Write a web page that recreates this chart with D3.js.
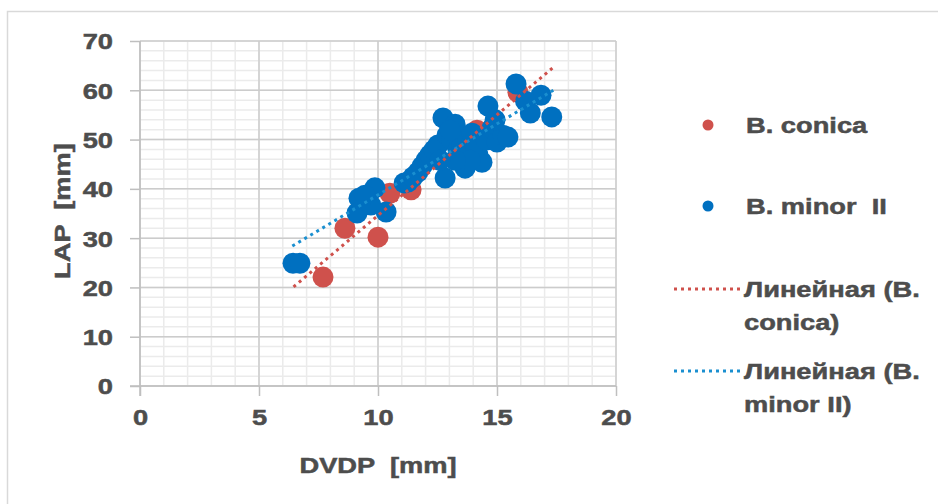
<!DOCTYPE html>
<html><head><meta charset="utf-8">
<script src="https://cdn.jsdelivr.net/npm/d3@7"></script>
<style>
html,body{margin:0;padding:0;background:#fff;}
svg text{font-family:"Liberation Sans",Arial,sans-serif;font-weight:bold;fill:#4d4d4d;stroke:#4d4d4d;stroke-width:0.5px;white-space:pre;}
</style></head><body>
<svg id="chart" width="938" height="504"></svg>
<script>
// ---- data ----
const conicaX = [7.69, 8.61, 10.0, 10.5, 11.39, 14.16, 15.88];
const conicaY = [22.1, 32.0, 30.2, 39.1, 39.8, 51.9, 59.6];

const minorX = [6.43, 6.72, 9.2, 9.87, 9.12, 10.34, 9.7, 9.45, 11.1,
  11.26, 11.47, 11.68, 11.85, 12.02, 12.18, 12.35, 12.52, 12.73, 13.24, 12.9, 13.1,
  12.82, 13.36, 13.53, 13.78, 13.95, 13.66, 14.2, 14.37, 14.12, 14.54, 14.62, 14.79,
  15.0, 15.25, 15.46, 14.92, 13.87, 13.24, 12.6, 13.03,
  15.8, 16.85, 16.4, 17.3, 16.2];
const minorY = [24.9, 24.9, 38.1, 40.2, 35.1, 35.3, 36.7, 38.7, 41.2,
  41.4, 42.4, 43.4, 44.6, 45.8, 46.9, 47.9, 48.9, 54.4, 53.1, 50.9, 49.9,
  42.2, 47.9, 48.7, 50.3, 51.3, 44.2, 46.9, 45.4, 48.3, 49.9, 56.8, 52.3,
  49.5, 50.9, 50.5, 54.0, 45.8, 45.8, 45.8, 51.9,
  61.3, 59.0, 55.4, 54.6, 57.8];

// trendline end points
const conicaTrendX = [6.45, 17.35];
const conicaTrendY = [20.1, 64.6];
const minorTrendX = [6.4, 17.4];
const minorTrendY = [28.4, 60.1];

const xTicks = [0, 5, 10, 15, 20];
const yTicks = [0, 10, 20, 30, 40, 50, 60, 70];
const seriesNames = ["B. conica", "B. minor  II"];
const trendNames = [["Линейная (B.", "conica)"], ["Линейная (B.", "minor II)"]];
const xTitle = "DVDP  [mm]";
const yTitle = "LAP  [mm]";

// ---- drawing ----
const RED = "#cf514c", BLUE = "#0070c0", BLUE_T = "#1a8fd0";
const SX = 1.24; // text horizontal stretch
const svg = d3.select("#chart");
svg.append("rect").attr("width", 938).attr("height", 504).attr("fill", "#fff");
svg.append("path").attr("d", "M7.5,504V11.5H938").attr("fill", "none").attr("stroke", "#d9d9d9").attr("stroke-width", 1.5);

const x = d3.scaleLinear().domain([0, 20]).range([140, 616]);
const y = d3.scaleLinear().domain([0, 70]).range([386, 41]);

const grid = svg.append("g");
// minor grid
grid.selectAll(".mvx").data(d3.range(0, 21, 1)).join("line")
  .attr("x1", d => x(d)).attr("x2", d => x(d)).attr("y1", y(70)).attr("y2", y(0))
  .attr("stroke", "#ebebeb").attr("stroke-width", 1.5);
grid.selectAll(".mhy").data(d3.range(0, 71, 2)).join("line")
  .attr("y1", d => y(d)).attr("y2", d => y(d)).attr("x1", x(0)).attr("x2", x(20))
  .attr("stroke", "#ebebeb").attr("stroke-width", 1.5);
// major grid
grid.selectAll(".Mvx").data(xTicks).join("line")
  .attr("x1", d => x(d)).attr("x2", d => x(d)).attr("y1", y(70)).attr("y2", y(0))
  .attr("stroke", "#cccccc").attr("stroke-width", 1.5);
grid.selectAll(".Mhy").data(yTicks).join("line")
  .attr("y1", d => y(d)).attr("y2", d => y(d)).attr("x1", x(0)).attr("x2", x(20))
  .attr("stroke", "#cccccc").attr("stroke-width", 1.5);

function stretchTexts(sel) {
  sel.selectAll("text").each(function() {
    const t = d3.select(this);
    const tx = +t.attr("x") || 0, ty = +t.attr("y") || 0;
    t.attr("x", 0).attr("y", 0).attr("transform", `translate(${tx},${ty}) scale(${SX},1)`);
  });
}

const yAxis = svg.append("g").attr("transform", `translate(${x(0)},0)`)
  .call(d3.axisLeft(y).tickValues(yTicks).tickSize(10).tickPadding(17).tickFormat(d3.format("d")));
yAxis.select(".domain").attr("d", `M0,${y(70)}V${y(0) + 10}`).attr("stroke", "#bfbfbf").attr("stroke-width", 1.5);
yAxis.selectAll(".tick line").attr("stroke", "#bfbfbf").attr("stroke-width", 1.5);
yAxis.selectAll("text").attr("font-size", 22).attr("fill", null).attr("font-family", null).attr("dy", "0.36em");
stretchTexts(yAxis);

const xAxis = svg.append("g").attr("transform", `translate(0,${y(0)})`)
  .call(d3.axisBottom(x).tickValues(xTicks).tickSize(10).tickPadding(13).tickFormat(d3.format("d")));
xAxis.select(".domain").attr("d", `M${x(0) - 10},0H${x(20)}`).attr("stroke", "#bfbfbf").attr("stroke-width", 1.5);
xAxis.selectAll(".tick line").attr("stroke", "#bfbfbf").attr("stroke-width", 1.5);
xAxis.selectAll("text").attr("font-size", 22).attr("fill", null).attr("font-family", null);
stretchTexts(xAxis);

// axis titles
svg.append("text").attr("transform", `translate(${(x(0) + x(20)) / 2},473) scale(${SX},1)`)
  .attr("text-anchor", "middle").attr("font-size", 22).text(xTitle);
svg.append("text").attr("transform", `translate(70,211) rotate(-90) scale(${SX},1)`)
  .attr("text-anchor", "middle").attr("font-size", 22).text(yTitle);

// points
const conica = conicaX.map((v, i) => [v, conicaY[i]]);
const minor = minorX.map((v, i) => [v, minorY[i]]);
svg.append("g").selectAll("circle").data(conica).join("circle")
  .attr("cx", d => x(d[0])).attr("cy", d => y(d[1])).attr("r", 10.5).attr("fill", RED);
svg.append("g").selectAll("circle").data(minor).join("circle")
  .attr("cx", d => x(d[0])).attr("cy", d => y(d[1])).attr("r", 10.5).attr("fill", BLUE);

// trendlines
const line = d3.line().x(d => x(d[0])).y(d => y(d[1]));
svg.append("path").datum(minorTrendX.map((v, i) => [v, minorTrendY[i]])).attr("d", line)
  .attr("fill", "none").attr("stroke", BLUE_T).attr("stroke-width", 3).attr("stroke-dasharray", "3,4");
svg.append("path").datum(conicaTrendX.map((v, i) => [v, conicaTrendY[i]])).attr("d", line)
  .attr("fill", "none").attr("stroke", RED).attr("stroke-width", 3).attr("stroke-dasharray", "3,4");

// legend
const lg = svg.append("g");
const lx = 708, tx = 746;
const markerRows = [{c: RED, y: 125, name: seriesNames[0]}, {c: BLUE, y: 206, name: seriesNames[1]}];
markerRows.forEach(r => {
  lg.append("circle").attr("cx", lx).attr("cy", r.y).attr("r", 5.5).attr("fill", r.c);
  lg.append("text").attr("transform", `translate(${tx},${r.y + 7.5}) scale(${SX},1)`).attr("font-size", 22).text(r.name);
});
const trendRows = [{c: RED, y: 289, lines: trendNames[0]}, {c: BLUE_T, y: 371, lines: trendNames[1]}];
trendRows.forEach(r => {
  lg.append("line").attr("x1", 674).attr("x2", 740).attr("y1", r.y).attr("y2", r.y)
    .attr("stroke", r.c).attr("stroke-width", 3).attr("stroke-dasharray", "3,4");
  r.lines.forEach((s, i) => {
    lg.append("text").attr("transform", `translate(${tx - 2},${r.y + 7.5 + i * 33}) scale(${SX},1)`).attr("font-size", 22).text(s);
  });
});
</script>
</body></html>
